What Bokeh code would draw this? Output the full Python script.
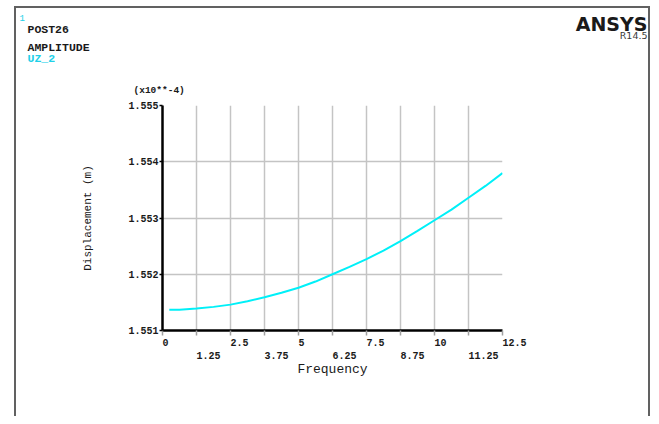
from bokeh.plotting import figure
from bokeh.models import Range1d, FixedTicker, LinearAxis, Label
from bokeh.embed import file_html
from bokeh.resources import INLINE

# ---- data ----
freq = [0.25, 0.625, 1.25, 1.875, 2.5, 3.125, 3.75, 4.375, 5.0, 5.625, 6.25,
        6.875, 7.5, 8.125, 8.75, 9.375, 10.0, 10.625, 11.25, 11.875, 12.5]
disp = [1.55137, 1.55137, 1.55139, 1.55142, 1.55146, 1.55152, 1.55159, 1.55167,
        1.55176, 1.55187, 1.55200, 1.55213, 1.55227, 1.55242, 1.55259, 1.55277,
        1.55296, 1.55315, 1.55336, 1.55357, 1.55380]

x_ticks_row1 = [0, 2.5, 5, 7.5, 10, 12.5]
x_labels_row1 = ["0", "2.5", "5", "7.5", "10", "12.5"]
x_ticks_row2 = [1.25, 3.75, 6.25, 8.75, 11.25]
x_labels_row2 = ["1.25", "3.75", "6.25", "8.75", "11.25"]
y_ticks = [1.551, 1.552, 1.553, 1.554, 1.555]
y_labels = ["1.551", "1.552", "1.553", "1.554", "1.555"]
x_all_ticks = sorted(x_ticks_row1 + x_ticks_row2)

MONO = "Liberation Mono"
TICK_FS = "10px"
INK = "#1a1a1a"
CYAN_TXT = "#20d0e8"
NBSP = "\u00a0"


def left_aligned(labels):
    # reference tick labels start at their tick: left-pad so the centred text begins at the tick
    return [NBSP * len(l) + l for l in labels]


W, H = 651, 416
p = figure(width=W, height=H, output_backend="svg", toolbar_location=None,
           x_range=Range1d(0, 12.5), y_range=Range1d(1.551, 1.555),
           min_border_left=162, min_border_right=W - 502,
           min_border_top=105, min_border_bottom=H - 330)
p.outline_line_color = None
p.background_fill_color = "white"
p.border_fill_color = None
# thin grey page frame (left, top, right) as in the ANSYS window
p.styles = {
    "background-color": "white",
    "background-image": ("linear-gradient(#616161,#616161), linear-gradient(#616161,#616161), "
                         "linear-gradient(#616161,#616161)"),
    "background-size": "2px 100%, 636px 2px, 2px 100%",
    "background-position": "14px 6px, 14px 6px, 648px 6px",
    "background-repeat": "no-repeat",
}

# grid
p.xgrid.ticker = FixedTicker(ticks=x_all_ticks)
p.ygrid.ticker = FixedTicker(ticks=y_ticks)
for g in (p.xgrid, p.ygrid):
    g.grid_line_color = "#c4c4c4"
    g.grid_line_width = 1.5

# x axis: first row of labels, tick marks at every grid position
ax = p.xaxis[0]
ax.ticker = FixedTicker(ticks=x_ticks_row1, minor_ticks=x_all_ticks)
ax.major_label_overrides = dict(zip(x_ticks_row1, left_aligned(x_labels_row1)))
ax.axis_line_color = "black"
ax.axis_line_width = 2.5
ax.major_tick_line_color = None
ax.major_tick_out = 0
ax.major_tick_in = 0
ax.minor_tick_line_color = "#a0a0a0"
ax.minor_tick_line_width = 1.5
ax.minor_tick_out = 5
ax.minor_tick_in = 0
ax.major_label_standoff = 2
ax.major_label_text_font = MONO
ax.major_label_text_font_style = "bold"
ax.major_label_text_font_size = TICK_FS
ax.major_label_text_color = INK

# x axis: second row of labels + title
ax2 = LinearAxis(ticker=FixedTicker(ticks=x_ticks_row2),
                 major_label_overrides=dict(zip(x_ticks_row2, left_aligned(x_labels_row2))))
ax2.axis_line_color = None
ax2.major_tick_line_color = None
ax2.major_tick_out = 0
ax2.major_tick_in = 0
ax2.minor_tick_line_color = None
ax2.major_label_standoff = -1
ax2.major_label_text_font = MONO
ax2.major_label_text_font_style = "bold"
ax2.major_label_text_font_size = TICK_FS
ax2.major_label_text_color = INK
ax2.axis_label = "Frequency"
ax2.axis_label_text_font = MONO
ax2.axis_label_text_font_style = "normal"
ax2.axis_label_text_font_size = "13px"
ax2.axis_label_text_color = INK
ax2.axis_label_standoff = -3
p.add_layout(ax2, "below")

# y axis
ay = p.yaxis[0]
ay.ticker = FixedTicker(ticks=y_ticks)
ay.major_label_overrides = dict(zip(y_ticks, y_labels))
ay.axis_line_color = "black"
ay.axis_line_width = 2.5
ay.major_tick_line_color = "black"
ay.major_tick_line_width = 1.5
ay.major_tick_out = 3
ay.major_tick_in = 0
ay.minor_tick_line_color = None
ay.major_label_standoff = 1
ay.major_label_text_font = MONO
ay.major_label_text_font_style = "bold"
ay.major_label_text_font_size = TICK_FS
ay.major_label_text_color = INK
ay.axis_label = "Displacement (m)"
ay.axis_label_text_font = MONO
ay.axis_label_text_font_style = "normal"
ay.axis_label_text_font_size = "11px"
ay.axis_label_text_color = INK
ay.axis_label_standoff = 31

# curve
p.line(freq, disp, line_color="#00f0f8", line_width=2)


# header texts: labels in side panels (not clipped), positioned in canvas pixels
def lab(text, x, y, size, color=INK, font=MONO, style="bold", align="left", place="above"):
    p.add_layout(Label(x=x, y=y, x_units="canvas", y_units="canvas", text=text,
                       text_font=font, text_font_size=size, text_font_style=style,
                       text_color=color, text_align=align, text_baseline="alphabetic"),
                 place)


lab("1", 19, 17.5, "9px", color=CYAN_TXT, style="normal")
lab("POST26", 27, 29, "11.5px")
lab("AMPLITUDE", 27, 47.3, "11.5px")
lab("UZ_2", 27, 57.5, "11.5px", color=CYAN_TXT)
lab("(x10**-4)", 133, 90, "9.5px")
lab("R14.5", 647, 35, "9.5px", color="#3a3a3a", font="DejaVu Sans", style="normal", align="right")
lab("ANSYS", 647, 23, "19px", font="DejaVu Sans", align="right", place="right")

open("out.html", "w").write(file_html(p, INLINE))
